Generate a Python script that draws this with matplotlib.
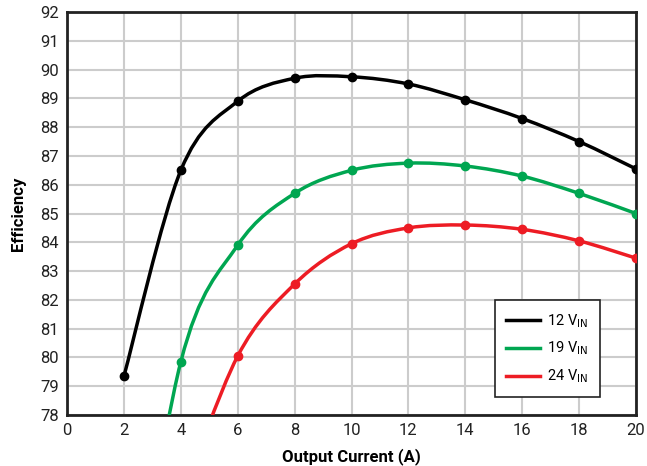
import numpy as np
import matplotlib.pyplot as plt
from matplotlib.path import Path
from matplotlib.patches import PathPatch
from matplotlib.lines import Line2D

plt.rcParams['font.family'] = ['Roboto', 'DejaVu Sans']

# data (points below 78 are estimates, off-chart)
x_12 = [2, 4, 6, 8, 10, 12, 14, 16, 18, 20]
eff_12 = [79.35, 86.5, 88.9, 89.7, 89.75, 89.5, 88.95, 88.3, 87.5, 86.55]
x_19 = [2, 4, 6, 8, 10, 12, 14, 16, 18, 20]
eff_19 = [68.5, 79.85, 83.9, 85.7, 86.5, 86.75, 86.65, 86.3, 85.7, 85.0]
x_24 = [4, 6, 8, 10, 12, 14, 16, 18, 20]
eff_24 = [75.0, 80.05, 82.55, 83.95, 84.5, 84.6, 84.45, 84.05, 83.45]
labels = ['12 V$_{\\mathrm{IN}}$', '19 V$_{\\mathrm{IN}}$', '24 V$_{\\mathrm{IN}}$']
colors = ['#000000', '#00a651', '#ed1c24']


def smooth_path(xs, ys):
    # catmull-rom style bezier through the points
    pts = np.column_stack([xs, ys])
    verts = [pts[0]]
    codes = [Path.MOVETO]
    n = len(pts)
    for i in range(n - 1):
        p0 = pts[i - 1] if i > 0 else pts[i]
        p1 = pts[i]
        p2 = pts[i + 1]
        p3 = pts[i + 2] if i + 2 < n else pts[i + 1]
        c1 = p1 + (p2 - p0) / 6.0
        c2 = p2 - (p3 - p1) / 6.0
        verts += [c1, c2, p2]
        codes += [Path.CURVE4] * 3
    return Path(verts, codes)


fig = plt.figure(figsize=(6.47, 4.66), dpi=100)
ax = fig.add_axes([0.1036, 0.1094, 0.8794, 0.8648])

series = [(x_12, eff_12), (x_19, eff_19), (x_24, eff_24)]
for (xs, ys), c in zip(series, colors):
    ax.add_patch(PathPatch(smooth_path(xs, ys), facecolor='none', edgecolor=c, lw=2.5, zorder=3))
    ax.plot(xs, ys, 'o', color=c, ms=6, zorder=4)

ax.set_xlim(0, 20)
ax.set_ylim(78, 92)
ax.set_xticks(range(0, 21, 2))
ax.set_yticks(range(78, 93))
ax.grid(True, color='#cccccc', lw=1.5)
ax.set_axisbelow(True)
ax.tick_params(length=0, labelsize=12, pad=6, colors='#222222')
for s in ax.spines.values():
    s.set_linewidth(2)
    s.set_color('#222222')

ax.set_xlabel('Output Current (A)', fontsize=12, fontweight='bold', labelpad=7)
ax.set_ylabel('Efficiency', fontsize=12, fontweight='bold', labelpad=10)

handles = [Line2D([], [], color=c, lw=2.5) for c in colors]
leg = ax.legend(handles, labels, loc='upper right', bbox_to_anchor=(0.937, 0.285),
                borderaxespad=0, fancybox=False, edgecolor='#222222', fontsize=10.5,
                framealpha=1, handlelength=2.3, labelspacing=0.7, borderpad=0.8,
                handletextpad=0.5)
leg.get_frame().set_linewidth(1.2)

fig.savefig('out.png', dpi=100)
